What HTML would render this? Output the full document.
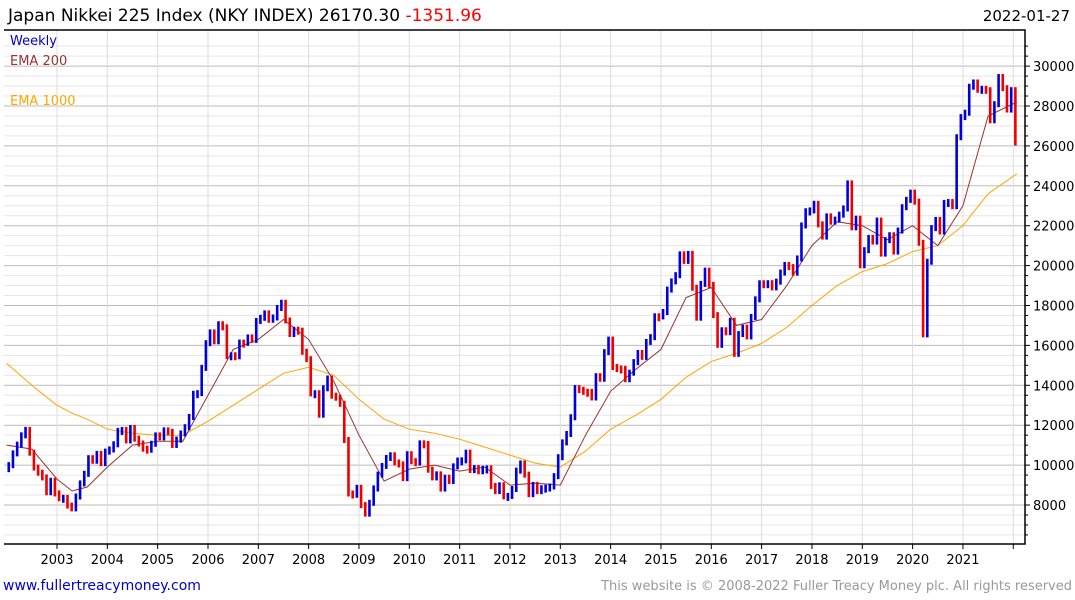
<!DOCTYPE html>
<html><head><meta charset="utf-8">
<style>
body{margin:0;background:#fff;font-family:"Liberation Sans","DejaVu Sans",sans-serif;}
#wrap{position:relative;width:1075px;height:600px;overflow:hidden;}
svg text{font-family:"DejaVu Sans","Liberation Sans",sans-serif;}
</style></head>
<body>
<div id="wrap">
<svg id="chart" width="1075" height="600">
  <text x="8" y="21" font-size="17" fill="#000">Japan Nikkei 225 Index (NKY INDEX) 26170.30 <tspan fill="#ff0000">-1351.96</tspan></text>
  <text x="1070" y="21" font-size="15" fill="#000" text-anchor="end">2022-01-27</text>
  <g id="grid"></g>
  <g id="series"></g>
  <g id="axes"></g>
  <text x="10" y="45" font-size="13" fill="#0000cc">Weekly</text>
  <text x="10" y="65" font-size="13" fill="#993333">EMA 200</text>
  <text x="10" y="105" font-size="13" fill="#ffa500">EMA 1000</text>
  <text x="3" y="590" font-size="14" fill="#0000cc">www.fullertreacymoney.com</text>
  <text x="1072" y="590" font-size="13" fill="#999" text-anchor="end">This website is © 2008-2022 Fuller Treacy Money plc. All rights reserved</text>
</svg>
</div>
<script>
const startYear = 2002;
const closes = [
9997,10587,11024,11492,11763,10621,9877,9619,9383,8640,9215,8579,
8340,8363,7973,7831,8425,9083,9563,10344,10219,10560,10100,10677,
10784,11042,11715,11761,11236,11859,11326,11082,10824,10771,11069,11489,
11388,11741,11669,11009,11277,11584,11900,12414,13574,13607,14872,16111,
16650,16205,17060,16906,15467,15505,15457,16141,16128,16399,16274,17226,
17383,17604,17288,17400,17876,18138,17249,16569,16786,16738,15681,15308,
13592,13603,12526,13850,14338,13481,13377,13073,11260,8577,8512,8860,
7994,7568,8110,8828,9523,9958,10357,10493,10133,10035,9346,10546,
10198,10126,11090,11057,9769,9383,9537,8824,9369,9202,9937,10229,
10238,10624,9755,9850,9693,9816,9833,8955,8700,8988,8434,8455,
8803,9723,10083,9521,8543,9007,8695,8840,8870,8928,9446,10395,
11139,11559,12398,13861,13775,13677,13668,13389,14456,14328,15662,16291,
14915,14841,14828,14304,14632,15162,15621,15425,16174,16414,17460,17451,
17674,18798,19207,19520,20563,20236,20585,18890,17388,19083,19747,19034,
17518,16027,16759,16666,17235,15576,16569,16887,16450,17425,18308,19114,
19041,19119,18909,19197,19651,20033,19925,19646,20356,22012,22725,22765,
23098,22068,21454,22468,22202,22305,22554,22865,24120,21920,22351,20015,
20773,21385,21206,22259,20601,21276,21522,20704,21756,22927,23294,23657,
23205,21143,16552,20194,21878,22288,21710,23140,23185,22977,26434,27444,
27663,28966,29179,28813,28860,28792,27284,28090,29453,28893,27822,28792,
26170];
const emaTimes = [2002.0,2002.5,2003.0,2003.3,2003.6,2004.0,2004.5,2005.0,2005.5,2006.0,2006.5,2007.0,2007.5,2008.0,2008.5,2009.0,2009.5,2010.0,2010.5,2011.0,2011.5,2012.0,2012.5,2013.0,2013.5,2014.0,2014.5,2015.0,2015.5,2016.0,2016.5,2017.0,2017.5,2018.0,2018.5,2019.0,2019.5,2020.0,2020.5,2021.0,2021.5,2022.07];
const ema200 = [11000,10800,9300,8700,8900,9900,11000,11200,11200,13500,15800,16300,17300,16300,14200,11500,9200,9800,10000,9700,9900,9000,9100,9000,11500,13700,14800,15800,18400,18900,17000,17300,19000,21000,22200,22000,21300,22000,21000,23000,27500,28200];
const ema1000 = [15100,14000,13000,12600,12300,11800,11600,11500,11500,12200,13000,13800,14600,14900,14500,13300,12300,11800,11600,11300,10900,10500,10100,9900,10700,11800,12500,13300,14400,15200,15600,16100,16900,18000,19000,19700,20100,20700,21000,22000,23600,24600];
const yTicks = [8000,10000,12000,14000,16000,18000,20000,22000,24000,26000,28000,30000];
const xYears = [2003,2004,2005,2006,2007,2008,2009,2010,2011,2012,2013,2014,2015,2016,2017,2018,2019,2020,2021,2022];

const NS="http://www.w3.org/2000/svg";
const L=4,R=1025,T=30,B=544;
const xs=t=>57+(t-2003)*50.33;
const ys=v=>505-(v-8000)*39.9/2000;
function mk(tag,attrs,parent){const e=document.createElementNS(NS,tag);for(const k in attrs)e.setAttribute(k,attrs[k]);parent.appendChild(e);return e;}
const grid=document.getElementById('grid'),ser=document.getElementById('series'),ax=document.getElementById('axes');
for(let v=6500;v<=31000;v+=500){const y=ys(v);if(y<T||y>B)continue;
 const g=mk('line',{x1:L,x2:R,y1:y,y2:y,stroke:(v%2000===0)?'#bbb':'#e6e6e6','stroke-width':1},grid);
 
 const tk=mk('line',{x1:R,x2:R+(v%2000===0?5:3),y1:y,y2:y,stroke:'#000'},ax);
 }
yTicks.forEach(v=>{const t=mk('text',{x:R+8,y:ys(v)+5,'font-size':13,fill:'#000'},ax);t.textContent=v;
 });
xYears.forEach(yr=>{const x=xs(yr);
 const g=mk('line',{x1:x,x2:x,y1:T,y2:B,stroke:'#ddd'},grid);
 
 const tk=mk('line',{x1:x,x2:x,y1:B,y2:B+5,stroke:'#000'},ax);
 
 if(yr<2022){const t=mk('text',{x:x,y:B+20,'font-size':13,'text-anchor':'middle',fill:'#000'},ax);t.textContent=yr;
 }});
const fr=mk('path',{d:`M${L},${T}H${R}V${B}H${L}`,fill:'none',stroke:'#000','stroke-width':1.5},ax);

function line(arr,color,name){const d=arr.map((v,i)=>(i?'L':'M')+xs(emaTimes[i]).toFixed(1)+','+ys(v).toFixed(1)).join('');
 const p=mk('path',{d:d,fill:'none',stroke:color,'stroke-width':1},ser);
 }
line(ema1000,'#ffa500','ema-1000-line');
line(ema200,'#993333','ema-200-line');
closes.forEach((c,i)=>{const o=i?closes[i-1]:c*0.98;const t=startYear+(i+0.5)/12;
 const x=xs(t);const y1=ys(Math.max(o,c)),y2=ys(Math.min(o,c));
 const b=mk('rect',{x:x-1.3,y:y1-3,width:2.6,height:Math.max(2,y2-y1)+6,fill:c>=o?'#0000dd':'#ee0000'},ser);
 });
</script>
</body></html>
